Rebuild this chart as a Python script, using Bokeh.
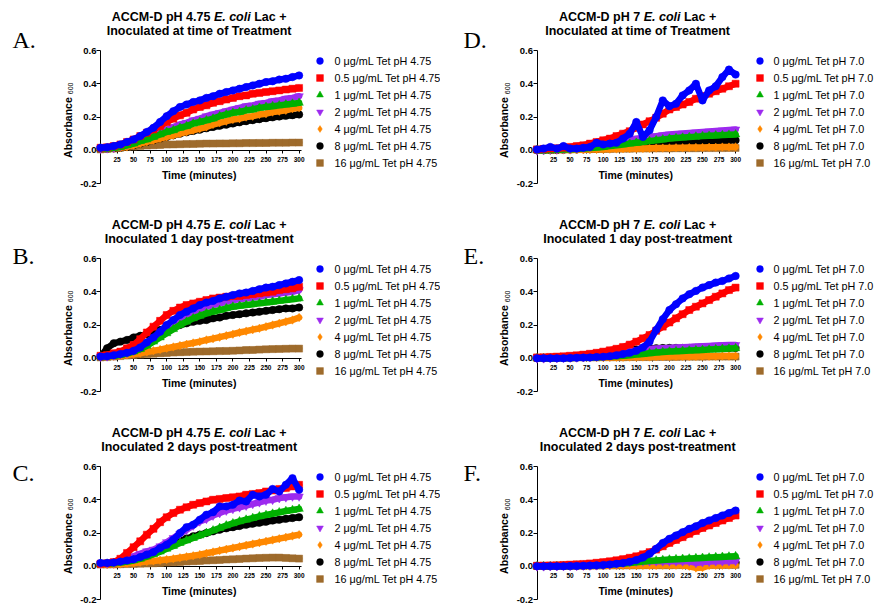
import math
from bokeh.plotting import figure
from bokeh.models import Range1d, FixedTicker, PrintfTickFormatter, Label, Legend, LegendItem
from bokeh.layouts import column, row
from bokeh.embed import file_html
from bokeh.resources import INLINE

# ---------------- data ----------------
TIME = list(range(0, 301, 10))
X_TICKS = [25, 50, 75, 100, 125, 150, 175, 200, 225, 250, 275, 300]
Y_TICKS = [-0.2, 0.0, 0.2, 0.4, 0.6]
CONCENTRATIONS = ["0", "0.5", "1", "2", "4", "8", "16"]
COLORS = ["#0000FF", "#FF0000", "#00B000", "#9D2AEF", "#FF8800", "#000000", "#9E6B2C"]
MARKERS = ["circle", "square", "triangle", "inverted_triangle", "diamond", "circle", "square"]
SIZES = [7.5, 7, 8.5, 8.5, 8.5, 7.5, 7]

# Panel A  (pH 4.75, inoculated at time of treatment)
A_0 = [0.015,0.018,0.025,0.035,0.05,0.065,0.085,0.11,0.135,0.17,0.205,0.235,0.26,0.275,0.29,0.30,0.315,0.325,0.34,0.35,0.36,0.37,0.38,0.39,0.40,0.41,0.415,0.425,0.43,0.44,0.45]
A_05 = [0.015,0.018,0.025,0.035,0.05,0.065,0.085,0.105,0.125,0.145,0.17,0.19,0.21,0.225,0.245,0.26,0.27,0.285,0.295,0.305,0.315,0.325,0.33,0.34,0.345,0.35,0.355,0.36,0.365,0.37,0.375]
A_1 = [0.01,0.01,0.015,0.02,0.03,0.04,0.055,0.065,0.08,0.095,0.11,0.12,0.135,0.145,0.16,0.17,0.18,0.19,0.205,0.215,0.225,0.23,0.24,0.245,0.255,0.26,0.265,0.27,0.275,0.28,0.285]
A_2 = [0.01,0.012,0.015,0.025,0.035,0.05,0.065,0.08,0.095,0.11,0.125,0.14,0.155,0.165,0.18,0.19,0.205,0.215,0.225,0.235,0.245,0.255,0.265,0.27,0.28,0.285,0.295,0.30,0.31,0.315,0.325]
A_4 = [0.01,0.01,0.012,0.015,0.02,0.03,0.04,0.05,0.06,0.07,0.08,0.09,0.10,0.11,0.12,0.13,0.14,0.155,0.165,0.175,0.185,0.19,0.20,0.205,0.215,0.22,0.23,0.235,0.24,0.25,0.255]
A_8 = [0.01,0.01,0.012,0.015,0.02,0.03,0.04,0.05,0.06,0.07,0.08,0.09,0.10,0.108,0.116,0.124,0.132,0.14,0.147,0.154,0.161,0.168,0.175,0.181,0.187,0.193,0.198,0.203,0.207,0.211,0.215]
A_16 = [0.005,0.008,0.01,0.015,0.02,0.022,0.025,0.028,0.03,0.032,0.034,0.035,0.036,0.037,0.038,0.039,0.04,0.04,0.041,0.041,0.042,0.042,0.043,0.043,0.044,0.044,0.045,0.045,0.045,0.046,0.046]

# Panel B  (pH 4.75, inoculated 1 day post-treatment)
B_0 = [0.01,0.012,0.018,0.025,0.033,0.045,0.065,0.095,0.125,0.16,0.20,0.23,0.26,0.28,0.30,0.32,0.335,0.345,0.36,0.37,0.38,0.39,0.395,0.405,0.415,0.425,0.43,0.44,0.45,0.46,0.47]
B_05 = [0.015,0.02,0.03,0.04,0.06,0.08,0.115,0.155,0.19,0.225,0.26,0.285,0.305,0.32,0.33,0.34,0.35,0.36,0.365,0.37,0.375,0.375,0.38,0.385,0.39,0.395,0.40,0.41,0.415,0.42,0.43]
B_1 = [0.01,0.012,0.015,0.02,0.03,0.04,0.055,0.075,0.10,0.125,0.15,0.175,0.20,0.22,0.24,0.255,0.27,0.28,0.29,0.30,0.31,0.315,0.32,0.325,0.33,0.335,0.34,0.345,0.35,0.355,0.36]
B_2 = [0.01,0.012,0.018,0.025,0.033,0.045,0.06,0.085,0.11,0.145,0.18,0.21,0.24,0.26,0.28,0.295,0.31,0.32,0.33,0.34,0.35,0.355,0.36,0.365,0.37,0.38,0.385,0.39,0.395,0.40,0.41]
B_4 = [0.01,0.01,0.012,0.015,0.02,0.025,0.03,0.038,0.045,0.052,0.06,0.068,0.076,0.084,0.092,0.10,0.11,0.118,0.127,0.136,0.145,0.155,0.163,0.172,0.18,0.19,0.20,0.21,0.22,0.23,0.245]
B_8 = [0.01,0.06,0.09,0.10,0.11,0.125,0.135,0.145,0.155,0.17,0.18,0.19,0.20,0.21,0.22,0.225,0.23,0.24,0.245,0.255,0.26,0.265,0.27,0.275,0.28,0.285,0.29,0.295,0.30,0.30,0.305]
B_16 = [0.005,0.007,0.01,0.013,0.016,0.02,0.022,0.025,0.027,0.03,0.032,0.034,0.036,0.037,0.039,0.04,0.041,0.042,0.043,0.044,0.045,0.047,0.049,0.05,0.052,0.054,0.055,0.056,0.057,0.058,0.058]

# Panel C  (pH 4.75, inoculated 2 days post-treatment)
C_0 = [0.02,0.02,0.022,0.028,0.035,0.042,0.055,0.07,0.085,0.11,0.13,0.16,0.20,0.235,0.25,0.28,0.31,0.325,0.36,0.36,0.37,0.395,0.39,0.43,0.42,0.43,0.465,0.45,0.49,0.53,0.46]
C_05 = [0.015,0.018,0.025,0.045,0.08,0.115,0.15,0.19,0.225,0.265,0.295,0.32,0.34,0.355,0.37,0.38,0.39,0.40,0.405,0.41,0.415,0.42,0.43,0.435,0.44,0.45,0.455,0.465,0.47,0.48,0.49]
C_1 = [0.015,0.015,0.018,0.022,0.028,0.035,0.045,0.058,0.072,0.088,0.105,0.122,0.14,0.155,0.17,0.185,0.2,0.215,0.23,0.245,0.258,0.27,0.28,0.29,0.30,0.308,0.316,0.324,0.332,0.338,0.345]
C_2 = [0.015,0.018,0.022,0.03,0.045,0.06,0.075,0.09,0.10,0.12,0.145,0.17,0.195,0.22,0.245,0.27,0.285,0.305,0.32,0.335,0.345,0.355,0.365,0.375,0.385,0.395,0.40,0.41,0.415,0.42,0.42]
C_4 = [0.01,0.01,0.012,0.014,0.017,0.02,0.024,0.028,0.032,0.036,0.04,0.045,0.051,0.057,0.063,0.07,0.078,0.086,0.094,0.102,0.11,0.118,0.126,0.134,0.142,0.15,0.158,0.166,0.174,0.182,0.19]
C_8 = [0.015,0.015,0.018,0.022,0.028,0.035,0.047,0.062,0.08,0.10,0.12,0.137,0.152,0.167,0.18,0.19,0.2,0.21,0.22,0.228,0.235,0.242,0.25,0.256,0.262,0.268,0.275,0.28,0.285,0.29,0.295]
C_16 = [0.01,0.01,0.011,0.012,0.013,0.014,0.015,0.016,0.018,0.02,0.022,0.024,0.026,0.028,0.03,0.032,0.034,0.036,0.038,0.04,0.042,0.044,0.046,0.048,0.05,0.051,0.052,0.052,0.05,0.048,0.046]

# Panel D  (pH 7, inoculated at time of treatment)
D_0 = [0.005,0.01,0.02,0.01,0.025,0.01,0.01,0.015,0.02,0.045,0.035,0.04,0.045,0.07,0.10,0.17,0.08,0.12,0.20,0.30,0.265,0.28,0.33,0.36,0.40,0.30,0.36,0.385,0.44,0.485,0.455]
D_05 = [0.005,0.008,0.01,0.012,0.015,0.02,0.025,0.03,0.04,0.05,0.06,0.07,0.085,0.10,0.115,0.135,0.155,0.175,0.195,0.22,0.245,0.26,0.275,0.29,0.31,0.325,0.34,0.355,0.37,0.385,0.40]
D_1 = [0.0,0.0,0.002,0.003,0.005,0.006,0.008,0.01,0.013,0.016,0.02,0.025,0.03,0.035,0.04,0.045,0.05,0.055,0.06,0.065,0.07,0.073,0.076,0.079,0.082,0.085,0.087,0.089,0.091,0.093,0.095]
D_2 = [0.0,0.002,0.004,0.006,0.008,0.01,0.013,0.017,0.022,0.028,0.035,0.042,0.05,0.057,0.064,0.07,0.075,0.08,0.085,0.09,0.095,0.098,0.101,0.104,0.107,0.11,0.113,0.116,0.119,0.122,0.125]
D_4 = [0.0,0.0,0.001,0.001,0.002,0.002,0.003,0.003,0.004,0.005,0.006,0.007,0.008,0.009,0.01,0.01,0.011,0.012,0.013,0.013,0.014,0.015,0.015,0.016,0.017,0.017,0.018,0.018,0.019,0.019,0.02]
D_8 = [0.0,0.0,0.001,0.002,0.003,0.004,0.005,0.006,0.007,0.008,0.01,0.012,0.014,0.016,0.018,0.02,0.023,0.026,0.029,0.032,0.035,0.038,0.04,0.043,0.045,0.048,0.05,0.053,0.055,0.058,0.06]
D_16 = [0.005,0.005,0.005,0.006,0.006,0.006,0.007,0.007,0.007,0.008,0.008,0.008,0.009,0.009,0.009,0.01,0.01,0.01,0.011,0.011,0.011,0.012,0.012,0.012,0.012,0.013,0.013,0.013,0.013,0.014,0.014]

# Panel E  (pH 7, inoculated 1 day post-treatment)
E_0 = [0.0,0.0,0.0,0.0,0.0,0.002,0.003,0.004,0.005,0.007,0.009,0.012,0.018,0.025,0.033,0.045,0.065,0.10,0.17,0.235,0.29,0.325,0.36,0.385,0.405,0.425,0.44,0.455,0.465,0.48,0.495]
E_05 = [0.005,0.006,0.008,0.01,0.012,0.015,0.018,0.022,0.027,0.033,0.04,0.048,0.057,0.068,0.082,0.10,0.12,0.14,0.165,0.19,0.215,0.24,0.265,0.29,0.31,0.33,0.35,0.37,0.39,0.41,0.425]
E_1 = [0.0,0.0,0.0,0.001,0.001,0.002,0.003,0.004,0.005,0.006,0.008,0.01,0.012,0.015,0.018,0.022,0.026,0.03,0.034,0.037,0.04,0.042,0.044,0.046,0.048,0.05,0.052,0.054,0.056,0.058,0.06]
E_2 = [0.0,0.0,0.001,0.002,0.003,0.004,0.005,0.007,0.009,0.012,0.016,0.022,0.03,0.038,0.044,0.048,0.052,0.055,0.058,0.06,0.062,0.064,0.066,0.068,0.07,0.072,0.074,0.076,0.078,0.079,0.08]
E_4 = [0.0,0.0,0.001,0.001,0.002,0.002,0.003,0.003,0.004,0.004,0.005,0.005,0.006,0.006,0.007,0.007,0.008,0.008,0.009,0.009,0.01,0.01,0.011,0.011,0.011,0.012,0.012,0.012,0.013,0.013,0.013]
E_8 = [0.0,0.0,0.001,0.002,0.003,0.004,0.005,0.007,0.01,0.015,0.02,0.026,0.032,0.042,0.05,0.053,0.056,0.058,0.06,0.061,0.062,0.062,0.062,0.062,0.062,0.062,0.062,0.062,0.062,0.062,0.062]
E_16 = [0.003,0.003,0.003,0.004,0.004,0.004,0.005,0.005,0.005,0.005,0.006,0.006,0.006,0.006,0.007,0.007,0.007,0.007,0.008,0.008,0.008,0.008,0.009,0.009,0.009,0.009,0.01,0.01,0.01,0.01,0.01]

# Panel F  (pH 7, inoculated 2 days post-treatment)
F_0 = [0.0,0.0,0.0,0.0,0.0,0.001,0.002,0.003,0.004,0.006,0.008,0.011,0.015,0.02,0.027,0.037,0.052,0.075,0.105,0.14,0.165,0.185,0.205,0.225,0.24,0.26,0.275,0.29,0.305,0.32,0.335]
F_05 = [0.003,0.004,0.005,0.006,0.008,0.01,0.012,0.014,0.017,0.021,0.025,0.03,0.036,0.043,0.051,0.06,0.072,0.085,0.10,0.12,0.14,0.158,0.175,0.195,0.212,0.23,0.245,0.26,0.275,0.29,0.305]
F_1 = [0.0,0.0,0.0,0.001,0.001,0.002,0.003,0.004,0.005,0.006,0.008,0.01,0.013,0.016,0.02,0.024,0.028,0.031,0.034,0.037,0.04,0.042,0.044,0.046,0.048,0.05,0.052,0.054,0.056,0.058,0.06]
F_2 = [0.0,0.0,0.001,0.001,0.002,0.002,0.003,0.004,0.005,0.006,0.008,0.012,0.016,0.02,0.025,0.028,0.03,0.03,0.03,0.03,0.03,0.03,0.03,0.03,0.02,0.025,0.028,0.03,0.03,0.031,0.032]
F_4 = [0.0,0.0,0.0,0.001,0.001,0.001,0.002,0.002,0.002,0.003,0.003,0.003,0.004,0.004,0.004,0.005,0.005,0.005,0.005,0.006,0.006,0.006,0.006,0.0,-0.01,-0.008,0.005,0.006,0.006,0.007,0.007]
F_8 = [0.0,0.0,0.001,0.001,0.002,0.002,0.003,0.003,0.004,0.005,0.006,0.007,0.008,0.009,0.01,0.011,0.012,0.013,0.014,0.015,0.016,0.017,0.018,0.018,0.019,0.02,0.02,0.021,0.021,0.022,0.022]
F_16 = [0.002,0.002,0.002,0.003,0.003,0.003,0.003,0.004,0.004,0.004,0.004,0.005,0.005,0.005,0.005,0.005,0.006,0.006,0.006,0.006,0.006,0.007,0.007,0.007,0.007,0.007,0.008,0.008,0.008,0.008,0.008]

LINE2 = {
    0: "Inoculated at time of Treatment",
    1: "Inoculated 1 day post-treatment",
    2: "Inoculated 2 days post-treatment",
}

PANELS = [
    # letter, column, row, title pH, legend pH, series
    ("A.", 0, 0, "4.75", "4.75", [A_0, A_05, A_1, A_2, A_4, A_8, A_16]),
    ("B.", 0, 1, "4.75", "4.75", [B_0, B_05, B_1, B_2, B_4, B_8, B_16]),
    ("C.", 0, 2, "4.75", "4.75", [C_0, C_05, C_1, C_2, C_4, C_8, C_16]),
    ("D.", 1, 0, "7", "7.0", [D_0, D_05, D_1, D_2, D_4, D_8, D_16]),
    ("E.", 1, 1, "7", "7.0", [E_0, E_05, E_1, E_2, E_4, E_8, E_16]),
    ("F.", 1, 2, "7", "7.0", [F_0, F_05, F_1, F_2, F_4, F_8, F_16]),
]

# ---------------- layout / style ----------------
FONT = "Liberation Sans"
ROW_H = [208, 210, 187]
Y06_PX = [50, 50, 48]       # pixel position of A = 0.6 from each figure's top
COL_W = [440, 436]
X0_PX = [100, 96.5]         # pixel position of t = 0 inside each figure
KX = 0.662                  # px per minute
KY = 133.0 / 0.8            # px per absorbance unit
LETTER_DY = [10.5, 2.5, -6.5]
LETTER_DX = [-88, -73.5]
TITLE_CX = [149, 152]
LEG_LEFT = [310.5, 310.5]   # legend left edge inside the figure (px)
LEG_STANDOFF = [7, 6]
TITLE_SIZE = 12.5

ARIAL_BOLD = {"A": 722, "C": 722, "M": 833, "-": 333, "D": 722, " ": 278, "p": 611,
              "H": 722, "4": 556, ".": 278, "7": 556, "5": 556, "E": 667, "c": 556,
              "o": 611, "l": 278, "i": 278, "L": 611, "a": 556, "+": 584}


def tw(s, size=TITLE_SIZE):
    return sum(ARIAL_BOLD[ch] for ch in s) * size / 1000.0


def make_panel(letter, ci, ri, ph_title, ph_leg, series):
    W, H = COL_W[ci], ROW_H[ri]
    y06 = Y06_PX[ri]
    x_start = -X0_PX[ci] / KX
    x_end = (W - X0_PX[ci]) / KX
    y_end = 0.6 + y06 / KY
    y_start = 0.6 - (H - y06) / KY
    p = figure(width=W, height=H, x_range=Range1d(x_start, x_end),
               y_range=Range1d(y_start, y_end),
               output_backend="svg", toolbar_location=None, title=None,
               min_border=0, min_border_left=0, min_border_right=0,
               min_border_top=0, min_border_bottom=0,
               outline_line_color=None, background_fill_color="white",
               border_fill_color="white")
    p.xgrid.visible = False
    p.ygrid.visible = False

    xa = p.xaxis[0]
    xa.fixed_location = 0
    xa.bounds = (0, 303)
    xa.ticker = FixedTicker(ticks=X_TICKS)
    xa.major_label_text_font = FONT
    xa.major_label_text_font_style = "bold"
    xa.major_label_text_font_size = "6.5px"
    xa.major_label_text_color = "black"
    xa.major_tick_out = 3
    xa.major_tick_in = 0
    xa.minor_tick_out = 0
    xa.minor_tick_in = 0
    xa.major_label_standoff = 4
    xa.axis_line_color = "black"
    xa.major_tick_line_color = "black"
    xa.axis_label = None
    xa.level = "underlay"

    ya = p.yaxis[0]
    ya.fixed_location = 0
    ya.bounds = (-0.2, 0.6)
    ya.ticker = FixedTicker(ticks=Y_TICKS)
    ya.formatter = PrintfTickFormatter(format="%.1f")
    ya.major_label_text_font = FONT
    ya.major_label_text_font_style = "bold"
    ya.major_label_text_font_size = "9.5px"
    ya.major_label_text_color = "black"
    ya.major_tick_out = 4
    ya.major_tick_in = 0
    ya.minor_tick_out = 0
    ya.minor_tick_in = 0
    ya.major_label_standoff = 0
    ya.axis_line_color = "black"
    ya.major_tick_line_color = "black"
    ya.axis_label = None
    ya.level = "underlay"

    rends = {}
    for i in reversed(range(7)):
        p.line(TIME, series[i], line_color=COLORS[i], line_width=6.5, line_join="round",
               line_cap="round")
        rends[i] = p.scatter(TIME, series[i], marker=MARKERS[i], size=SIZES[i],
                             fill_color=COLORS[i], line_color=COLORS[i], line_width=0.5)

    items = [LegendItem(label=f"{CONCENTRATIONS[i]} \u03bcg/mL Tet pH {ph_leg}",
                        renderers=[rends[i]]) for i in range(7)]
    leg_bottom = y06 + 2 + 7 * 17
    legend = Legend(items=items, location=(LEG_LEFT[ci], H - leg_bottom),
                    glyph_width=17, glyph_height=17,
                    label_height=17, label_standoff=LEG_STANDOFF[ci], spacing=0,
                    padding=0, margin=0, border_line_color=None, background_fill_alpha=0,
                    label_text_font=FONT, label_text_font_size="10.8px",
                    label_text_color="black")
    p.add_layout(legend)

    # two-line title with italic species name
    part1 = f"ACCM-D pH {ph_title}"
    w1, sw, wi, w3 = tw(part1), tw(" "), tw("E. coli"), tw("Lac +")
    start = -(w1 + sw + wi + sw + w3) / 2.0
    cx = TITLE_CX[ci]
    common = dict(x=cx, y=0.6, y_offset=34, text_align="left", text_baseline="middle",
                  text_font=FONT, text_font_size=f"{TITLE_SIZE}px", text_color="black")
    p.add_layout(Label(text=part1, x_offset=start, text_font_style="bold", **common))
    p.add_layout(Label(text="E. coli", x_offset=start + w1 + sw,
                       text_font_style="bold italic", **common))
    p.add_layout(Label(text="Lac +", x_offset=start + w1 + sw + wi + sw,
                       text_font_style="bold", **common))
    p.add_layout(Label(text=LINE2[ri], x=cx, y=0.6, y_offset=20, text_align="center",
                       text_baseline="middle", text_font=FONT, text_font_style="bold",
                       text_font_size=f"{TITLE_SIZE}px", text_color="black"))

    # x-axis title
    p.add_layout(Label(text="Time (minutes)", x=149, y=0, y_offset=-25, text_align="center",
                       text_baseline="middle", text_font=FONT, text_font_style="bold",
                       text_font_size="10.5px", text_color="black"))

    # panel letter
    p.add_layout(Label(text=letter, x=0, y=0.6, x_offset=LETTER_DX[ci],
                       y_offset=LETTER_DY[ri], text_align="left",
                       text_baseline="middle", text_font="Liberation Serif",
                       text_font_size="24px", text_color="black"))

    # y-axis title with subscript
    p.add_layout(Label(text="Absorbance", x=0, y=0.325, x_offset=-33, y_offset=-1,
                       angle=math.pi / 2, text_align="right", text_baseline="middle",
                       text_font=FONT, text_font_style="bold", text_font_size="10.5px",
                       text_color="black"))
    p.add_layout(Label(text="600", x=0, y=0.325, x_offset=-30, y_offset=2,
                       angle=math.pi / 2, text_align="left", text_baseline="middle",
                       text_font=FONT, text_font_size="7px", text_color="black"))
    return p


figs = {}
for spec in PANELS:
    figs[(spec[1], spec[2])] = make_panel(*spec)

layout = column(*[row(figs[(0, r)], figs[(1, r)]) for r in range(3)])

open("out.html", "w").write(file_html(layout, INLINE))
